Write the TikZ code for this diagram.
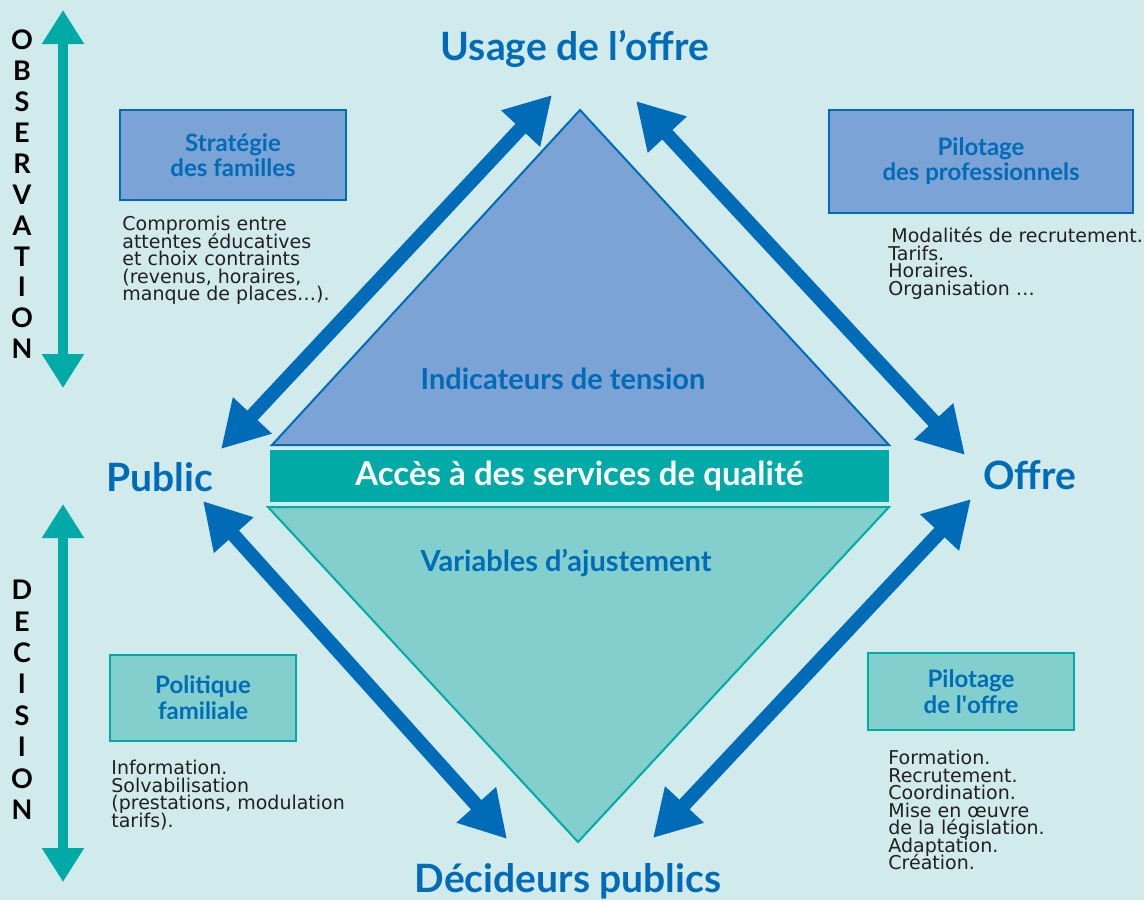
\documentclass[tikz,border=0pt]{standalone}
\usepackage{fontspec}
\setmainfont{Lato}
\newfontfamily\rawlato[Ligatures=ResetAll]{Lato}
\newfontfamily\notefont{DejaVu Sans}
\usetikzlibrary{arrows.meta}

\definecolor{bgcol}{RGB}{209,235,236}
\definecolor{darkblue}{RGB}{0,107,182}
\definecolor{lightblue}{RGB}{124,163,214}
\definecolor{tealcol}{RGB}{0,171,167}
\definecolor{lightteal}{RGB}{131,207,205}
\definecolor{textgray}{RGB}{35,31,32}

\tikzset{
  bigarrow/.style={draw=darkblue, line width=7pt, {Triangle[width=25pt,length=23pt]}-{Triangle[width=25pt,length=23pt]}},
  sidearrow/.style={draw=tealcol, line width=5pt, {Triangle[width=20pt,length=17pt]}-{Triangle[width=20pt,length=17pt]}},
  pole/.style={text=darkblue, font=\fontsize{19.5}{22}\selectfont\bfseries},
  midlabel/.style={text=darkblue, font=\fontsize{14.5}{17}\selectfont\bfseries},
  vletter/.style={text=black, font=\fontsize{13.5}{15}\selectfont\bfseries, inner sep=0pt},
  bluebox/.style={draw=darkblue, line width=1pt, fill=lightblue, text=darkblue, align=center,
    font=\fontsize{12}{12.5}\selectfont\bfseries},
  tealbox/.style={draw=tealcol, line width=1pt, fill=lightteal, text=darkblue, align=center,
    font=\fontsize{12}{13}\selectfont\bfseries},
  notes/.style={text=textgray, align=left, anchor=north west, inner sep=0pt,
    font={\notefont\fontsize{9.5}{8.75}\selectfont\lineskiplimit=-10pt\lineskip=0pt}}
}

\begin{document}
\begin{tikzpicture}[x=0.5pt,y=-0.5pt]
\fill[bgcol] (0,0) rectangle (1144,900);
\useasboundingbox (0,0) rectangle (1144,900);

% the two triangles and the band
\draw[darkblue, fill=lightblue, line width=1pt] (580,110) -- (889,445) -- (272,445) -- cycle;
\draw[tealcol, fill=lightteal, line width=1pt] (268,507) -- (889,507) -- (578,842) -- cycle;
\node[fill=tealcol, minimum width=309.5pt, minimum height=26pt, inner sep=0pt, text=white,
  font=\fontsize{16.5}{18}\selectfont\bfseries] (acces) at (579.5,476) {Accès à des services de qualité};
\node[midlabel] (tension) at (563,379) {Indicateurs de tension};
\node[midlabel] (ajust) at (566,563) {Variables d’ajustement};

% poles
\node[pole] (usage) at (575,49) {Usage de l’offre};
\node[pole] (public) at (160,477) {Public};
\node[pole] (offre) at (1030,475) {Offre};
\node[pole] (decid) at (568,881) {Décideurs publics};

% arrow ends
\coordinate (pubUp) at (221,449);
\coordinate (usaLeft) at (552,95);
\coordinate (usaRight) at (636,101);
\coordinate (offUp) at (965,455);
\coordinate (pubDown) at (203,501);
\coordinate (decLeft) at (507,839);
\coordinate (offDown) at (971,499);
\coordinate (decRight) at (653,838);

\draw[bigarrow] (pubUp) -- (usaLeft);
\draw[bigarrow] (usaRight) -- (offUp);
\draw[bigarrow] (pubDown) -- (decLeft);
\draw[bigarrow] (offDown) -- (decRight);

% boxes
\node[bluebox, minimum width=113pt, minimum height=45pt] (strat) at (233,155) {Stratégie\\des familles};
\node[bluebox, minimum width=152pt, minimum height=51.5pt] (pilpro) at (981,161.5) {Pilotage\\des professionnels};
\node[tealbox, minimum width=93pt, minimum height=43pt] (polfam) at (203,698) {Politique\\familiale};
\node[tealbox, minimum width=103pt, minimum height=38.5pt] (piloff) at (971,691.5) {Pilotage\\de l{\rawlato\bfseries'}offre};

\node[notes] (compromis) at (122,216) {Compromis entre\\attentes éducatives\\et choix contraints\\(revenus, horaires,\\manque de places…).};
\node[notes] (modal) at (888,227) {\hspace{1.5pt}Modalités de recrutement.\\Tarifs.\\Horaires.\\Organisation …};
\node[notes] (info) at (111,760) {Information.\\Solvabilisation\\(prestations, modulation\\tarifs).};
\node[notes] (form) at (888,750) {Formation.\\Recrutement.\\Coordination.\\Mise en œuvre\\de la législation.\\Adaptation.\\Création.};

% side scales
\coordinate (obsTop) at (63,10);
\coordinate (obsBot) at (63,388);
\coordinate (decTop) at (63,504);
\coordinate (decBot) at (63,882);
\draw[sidearrow] (obsTop) -- (obsBot);
\draw[sidearrow] (decTop) -- (decBot);
\foreach \l [count=\i] in {O,B,S,E,R,V,A,T,I,O,N}
  \node[vletter] (obs\i) at (22,{40+30.9*(\i-1)}) {\l};
\foreach \l [count=\i] in {D,E,C,I,S,I,O,N}
  \node[vletter] (dec\i) at (22,{590+31.4*(\i-1)}) {\l};
\end{tikzpicture}
\end{document}
